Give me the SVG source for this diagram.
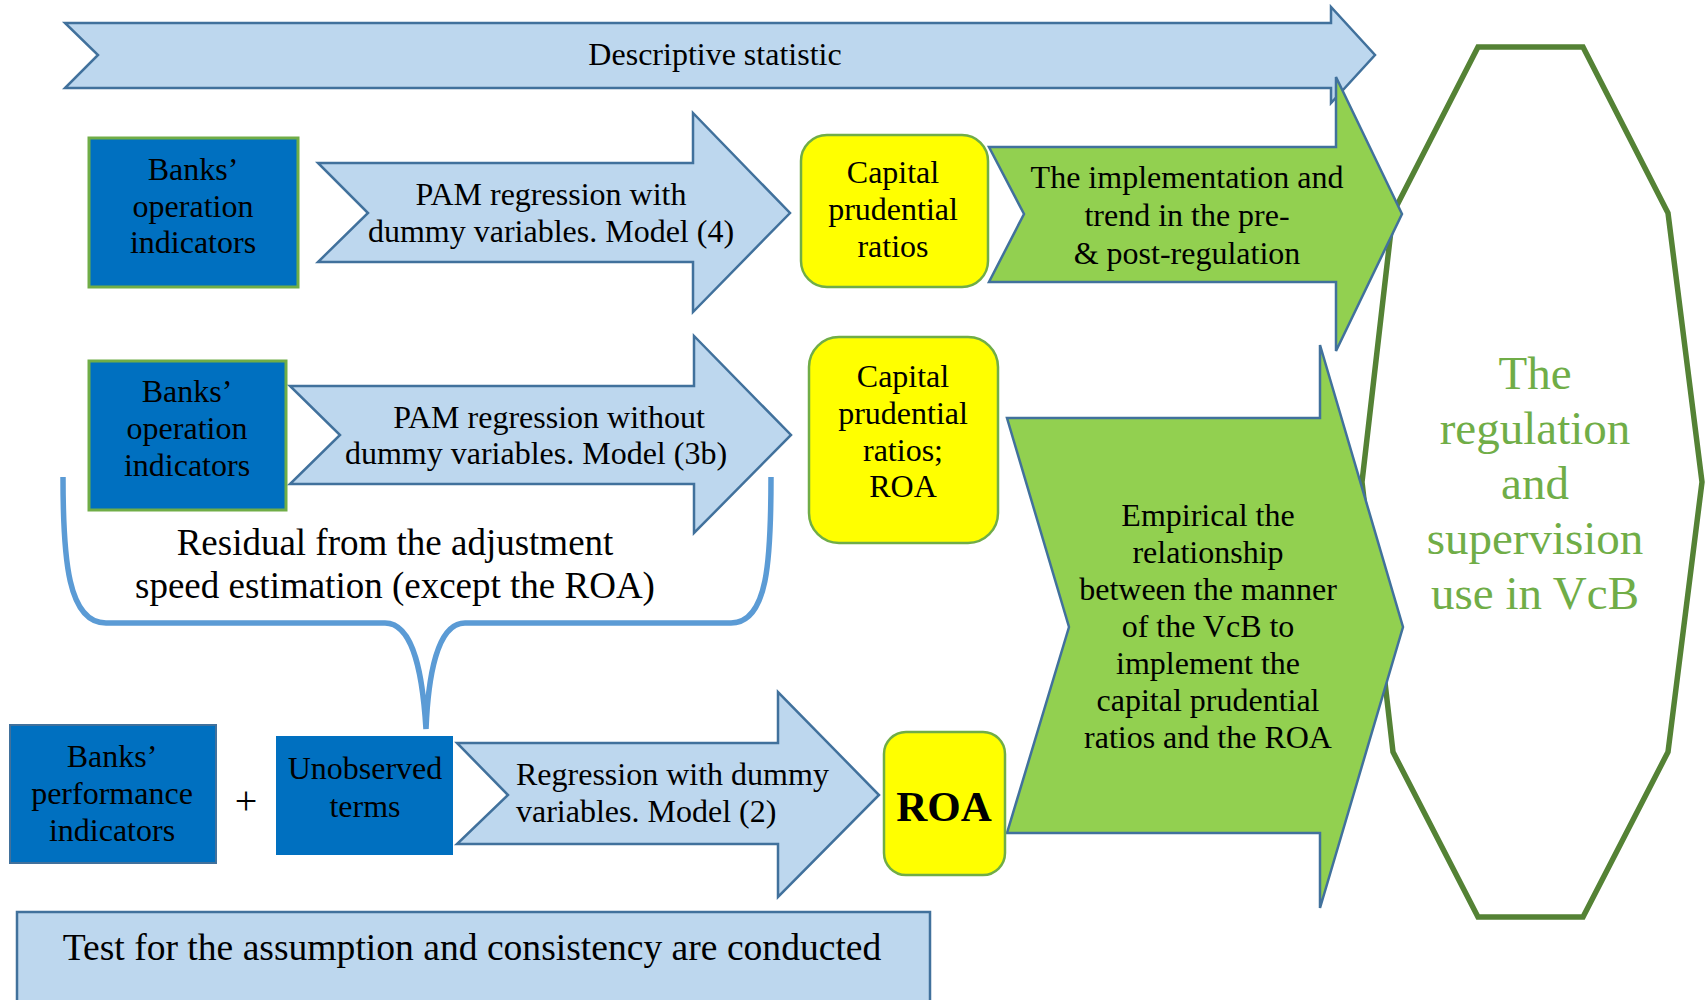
<svg xmlns="http://www.w3.org/2000/svg" width="1707" height="1000" viewBox="0 0 1707 1000">
<style>
text{font-family:"Liberation Serif","Times New Roman",serif;fill:#000;text-anchor:middle}
.lb{fill:#BDD7EE;stroke:#41719C;stroke-width:2.5}
.gr{fill:#92D050;stroke:#41719C;stroke-width:2.5}
.db{fill:#0070C0;stroke:#70AD47;stroke-width:3}
.db2{fill:#0070C0;stroke:#41719C;stroke-width:2}
.yl{fill:#FFFF00;stroke:#70AD47;stroke-width:2.5}
.t32{font-size:32px}
.t36{font-size:37px}
.oct{fill:none;stroke:#548235;stroke-width:5.5}
.ot{font-size:47px;fill:#70AD47}
</style>
<g id="descriptive">
<path class="lb" d="M65 23 L1331 23 L1331 7 L1375 55 L1331 103 L1331 88 L65 88 L98 55 Z"/>
<text class="t32" x="715" y="65">Descriptive statistic</text>
</g>
<g id="octagon">
<polygon class="oct" points="1478,47 1583,47 1668,213 1702,482 1668,752 1583,917 1478,917 1393,752 1362,482 1393,213"/>
<text class="ot" x="1535" y="389">The</text>
<text class="ot" x="1535" y="444">regulation</text>
<text class="ot" x="1535" y="499">and</text>
<text class="ot" x="1535" y="554">supervision</text>
<text class="ot" x="1535" y="609">use in VcB</text>
</g>
<g id="green1">
<path class="gr" d="M989 147 L1336 147 L1336 77 L1402 214 L1336 351 L1336 282 L989 282 L1024 214 Z"/>
<text class="t32" x="1187" y="188">The implementation and</text>
<text class="t32" x="1187" y="226">trend in the pre-</text>
<text class="t32" x="1187" y="264">&amp; post-regulation</text>
</g>
<g id="green2">
<path class="gr" d="M1007 418 L1320 418 L1320 345 L1403 627 L1320 908 L1320 833 L1007 833 L1069 627 Z"/>
<text class="t32" x="1208" y="526">Empirical the</text>
<text class="t32" x="1208" y="563">relationship</text>
<text class="t32" x="1208" y="600">between the manner</text>
<text class="t32" x="1208" y="637">of the VcB to</text>
<text class="t32" x="1208" y="674">implement the</text>
<text class="t32" x="1208" y="711">capital prudential</text>
<text class="t32" x="1208" y="748">ratios and the ROA</text>
</g>
<g id="banks1">
<rect class="db" x="89" y="138" width="209" height="149"/>
<text class="t32" x="193" y="180">Banks’</text>
<text class="t32" x="193" y="217">operation</text>
<text class="t32" x="193" y="253">indicators</text>
</g>
<g id="pam1">
<path class="lb" d="M318 163 L693 163 L693 113 L790 213 L693 312 L693 262 L318 262 L368 213 Z"/>
<text class="t32" x="551" y="205">PAM regression with</text>
<text class="t32" x="551" y="242">dummy variables. Model (4)</text>
</g>
<g id="capital1">
<rect class="yl" x="801" y="135" width="187" height="152" rx="26"/>
<text class="t32" x="893" y="183">Capital</text>
<text class="t32" x="893" y="220">prudential</text>
<text class="t32" x="893" y="257">ratios</text>
</g>
<g id="banks2">
<rect class="db" x="89" y="361" width="197" height="149"/>
<text class="t32" x="187" y="402">Banks’</text>
<text class="t32" x="187" y="439">operation</text>
<text class="t32" x="187" y="476">indicators</text>
</g>
<g id="pam2">
<path class="lb" d="M290 386 L694 386 L694 336 L791 435 L694 533 L694 484 L290 484 L340 435 Z"/>
<text class="t32" x="549" y="428">PAM regression without</text>
<text class="t32" x="536" y="464">dummy variables. Model (3b)</text>
</g>
<g id="capital2">
<rect class="yl" x="809" y="337" width="189" height="206" rx="30"/>
<text class="t32" x="903" y="387">Capital</text>
<text class="t32" x="903" y="424">prudential</text>
<text class="t32" x="903" y="461">ratios;</text>
<text class="t32" x="903" y="497">ROA</text>
</g>
<g id="residual">
<text class="t36" x="395" y="555">Residual from the adjustment</text>
<text class="t36" x="395" y="598">speed estimation (except the ROA)</text>
</g>
<g id="banks3">
<rect class="db2" x="10" y="725" width="206" height="138"/>
<text class="t32" x="112" y="767">Banks’</text>
<text class="t32" x="112" y="804">performance</text>
<text class="t32" x="112" y="841">indicators</text>
</g>
<g id="plus">
<text x="246" y="814" style="font-size:40px">+</text>
</g>
<g id="unobserved">
<rect x="276" y="736" width="177" height="119" fill="#0070C0"/>
<text class="t32" x="365" y="779">Unobserved</text>
<text class="t32" x="365" y="817">terms</text>
</g>
<g id="regression">
<path class="lb" d="M457 743 L778 743 L778 692 L879 795 L778 897 L778 844 L457 844 L508 795 Z"/>
<text class="t32" x="516" y="785" style="text-anchor:start">Regression with dummy</text>
<text class="t32" x="516" y="822" style="text-anchor:start">variables. Model (2)</text>
</g>
<g id="roa">
<rect class="yl" x="884" y="732" width="121" height="143" rx="22"/>
<text x="944" y="821" style="font-size:43px;font-weight:bold">ROA</text>
</g>
<g id="test">
<rect class="lb" x="17" y="912" width="913" height="95"/>
<text x="472" y="960" style="font-size:37.6px">Test for the assumption and consistency are conducted</text>
</g>
<g id="connectors">
<path d="M63 477 C63 560 68 623 106 623 L385 623 C415 623 423 680 426 729 C428 680 436 623 465 623 L731 623 C768 623 771 560 771 477" fill="none" stroke="#5B9BD5" stroke-width="5.5"/>
</g>
</svg>
